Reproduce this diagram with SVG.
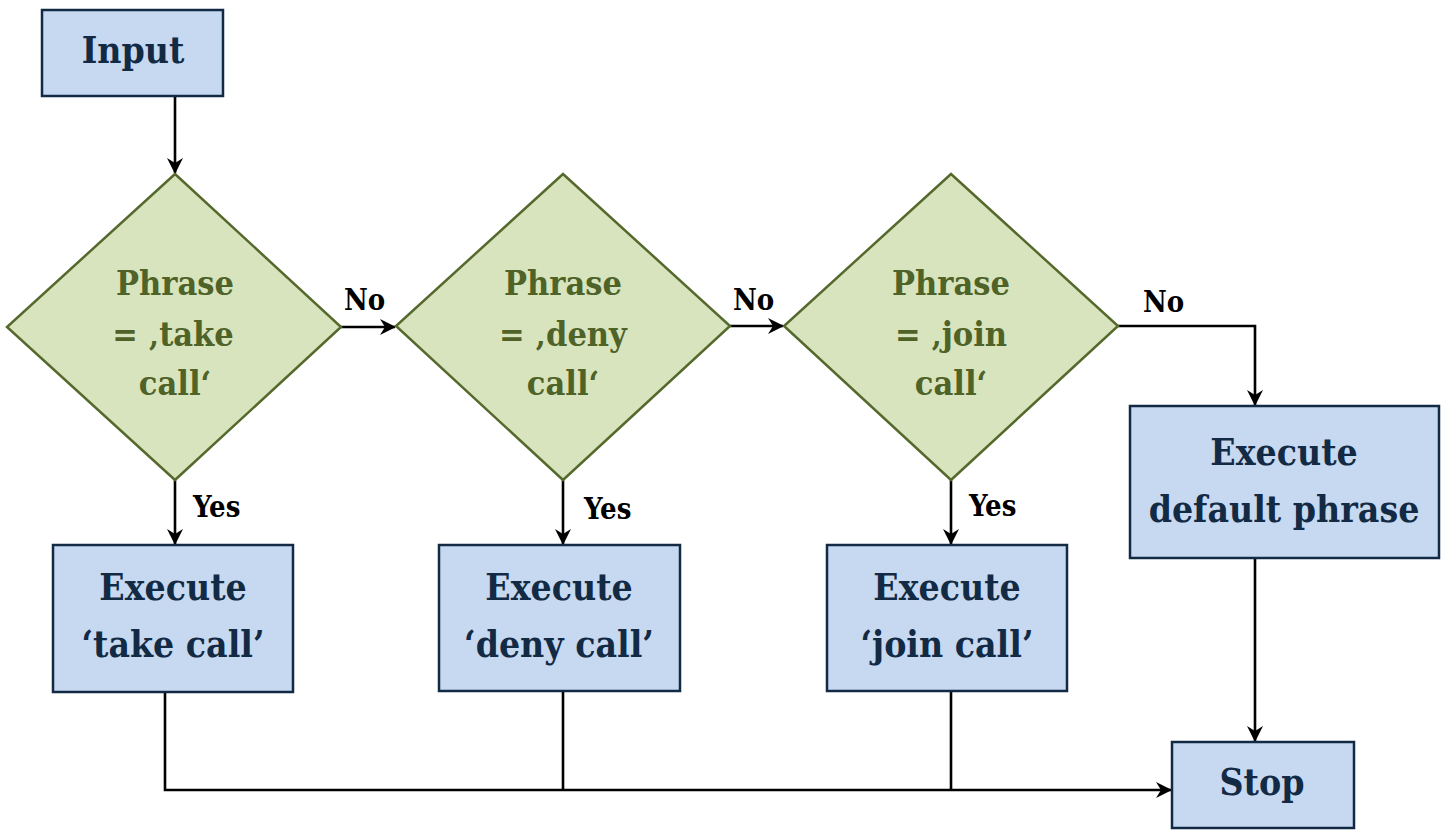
<svg xmlns="http://www.w3.org/2000/svg" width="1447" height="835" viewBox="0 0 1447 835">
<defs>
<marker id="arr" viewBox="0 0 16 16" refX="15" refY="8" markerWidth="16" markerHeight="16" markerUnits="userSpaceOnUse" orient="auto">
<path d="M0,0 L16,8 L0,16 L5,8 z" fill="#000"/>
</marker>
<style>
.box{fill:#c6d9f1;stroke:#132a45;stroke-width:2.5}
.dia{fill:#d7e4bd;stroke:#56692c;stroke-width:2.5}
.bt{font-family:'DejaVu Serif Condensed','DejaVu Serif',serif;font-stretch:condensed;font-weight:bold;font-size:37px;fill:#132a45;text-anchor:middle}
.dt{font-family:'DejaVu Serif Condensed','DejaVu Serif',serif;font-stretch:condensed;font-weight:bold;font-size:34px;fill:#4f6228;text-anchor:middle}
.lb{font-family:'DejaVu Serif Condensed','DejaVu Serif',serif;font-stretch:condensed;font-weight:bold;font-size:29px;fill:#000}
.c{fill:none;stroke:#000;stroke-width:2.6}
</style>
</defs>
<rect width="1447" height="835" fill="#fff"/>
<g id="connectors">
<path class="c" d="M175,96 V173" marker-end="url(#arr)"/>
<path class="c" d="M341,327 H395" marker-end="url(#arr)"/>
<path class="c" d="M730,326 H783" marker-end="url(#arr)"/>
<path class="c" d="M1118,326 H1255 V405" marker-end="url(#arr)"/>
<path class="c" d="M175,480 V544" marker-end="url(#arr)"/>
<path class="c" d="M563,480 V544" marker-end="url(#arr)"/>
<path class="c" d="M951,480 V544" marker-end="url(#arr)"/>
<path class="c" d="M1255,558 V741" marker-end="url(#arr)"/>
<path class="c" d="M165,692 V790 H1171" marker-end="url(#arr)"/>
<path class="c" d="M563,691 V790"/>
<path class="c" d="M951,691 V790"/>
<text class="lb" x="344" y="310">No</text>
<text class="lb" x="733" y="310">No</text>
<text class="lb" x="1143" y="312">No</text>
<text class="lb" x="193" y="517">Yes</text>
<text class="lb" x="584" y="519">Yes</text>
<text class="lb" x="969" y="516">Yes</text>
</g>
<g id="input">
<rect class="box" x="42" y="10" width="181" height="86"/>
<text class="bt" x="133" y="63">Input</text>
</g>
<g id="dec-take">
<polygon class="dia" points="175,174 341,327 175,480 7,327"/>
<text class="dt" x="175" y="295">Phrase</text>
<text class="dt" x="173" y="346">= ‚take</text>
<text class="dt" x="175" y="395">call‘</text>
</g>
<g id="dec-deny">
<polygon class="dia" points="563,174 730,326 563,480 396,326"/>
<text class="dt" x="563" y="295">Phrase</text>
<text class="dt" x="563" y="346">= ‚deny</text>
<text class="dt" x="563" y="395">call‘</text>
</g>
<g id="dec-join">
<polygon class="dia" points="951,174 1118,326 951,480 784,326"/>
<text class="dt" x="951" y="295">Phrase</text>
<text class="dt" x="951" y="346">= ‚join</text>
<text class="dt" x="951" y="395">call‘</text>
</g>
<g id="exec-take">
<rect class="box" x="53" y="545" width="240" height="147"/>
<text class="bt" x="173" y="600">Execute</text>
<text class="bt" x="173" y="657">‘take call’</text>
</g>
<g id="exec-deny">
<rect class="box" x="439" y="545" width="241" height="146"/>
<text class="bt" x="559" y="600">Execute</text>
<text class="bt" x="559" y="657">‘deny call’</text>
</g>
<g id="exec-join">
<rect class="box" x="827" y="545" width="240" height="146"/>
<text class="bt" x="947" y="600">Execute</text>
<text class="bt" x="947" y="657">‘join call’</text>
</g>
<g id="exec-default">
<rect class="box" x="1130" y="406" width="309" height="152"/>
<text class="bt" x="1284" y="465">Execute</text>
<text class="bt" x="1284" y="522">default phrase</text>
</g>
<g id="stop">
<rect class="box" x="1172" y="742" width="182" height="86"/>
<text class="bt" x="1262" y="795">Stop</text>
</g>
</svg>
